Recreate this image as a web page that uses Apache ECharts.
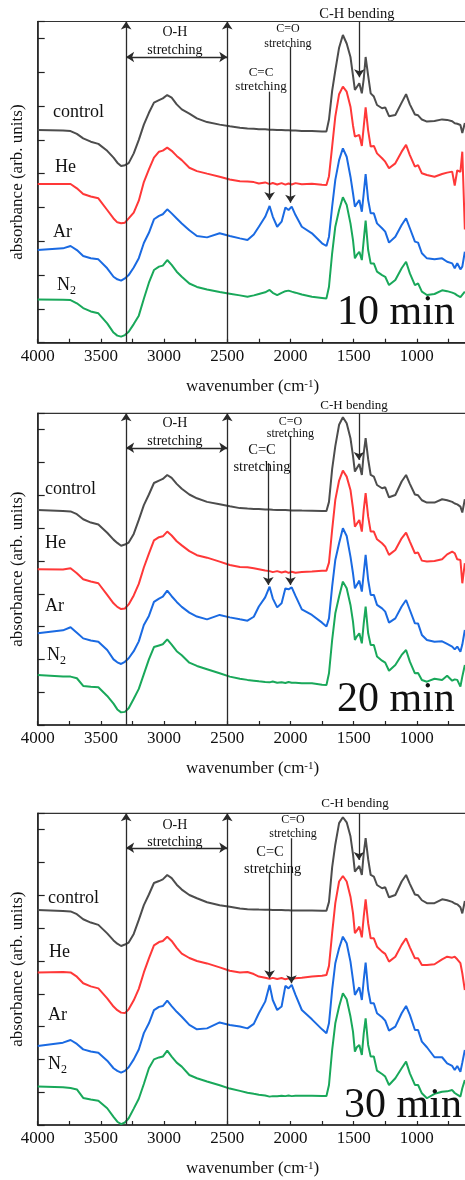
<!DOCTYPE html>
<html>
<head>
<meta charset="utf-8">
<script src="https://cdn.jsdelivr.net/npm/echarts@6/dist/echarts.min.js"></script>
<style>
html, body { margin: 0; padding: 0; background: #fff; overflow: hidden; }
#chart { width: 465px; height: 1180px; }
</style>
</head>
<body>
<div id="chart"></div>
<script>
// Sampled wavenumbers (cm-1), shared by every spectrum
const wavenumbers = [4000,3800,3740,3690,3640,3580,3520,3450,3400,3370,
  3340,3310,3280,3240,3200,3160,3120,3080,3040,3010,
  2975,2940,2900,2860,2800,2740,2660,2560,2480,2400,
  2340,2290,2250,2200,2165,2140,2105,2070,2040,2015,
  1990,1960,1910,1830,1750,1715,1695,1670,1645,1615,
  1585,1555,1525,1505,1490,1475,1455,1435,1420,1405,
  1385,1365,1340,1315,1275,1250,1220,1170,1120,1085,
  1055,1015,990,960,920,860,800,760,720,700,
  680,655,640,620];

// 10 min treatment (offset absorbance, arb. units)
const control10 = [12.58,12.55,12.52,12.35,12.09,11.89,11.76,11.35,10.95,10.65,
  10.45,10.5,10.62,11.2,12.0,12.9,13.6,14.2,14.35,14.45,
  14.65,14.5,14.1,13.8,13.55,13.27,13.05,12.9,12.8,12.72,
  12.67,12.65,12.63,12.62,12.6,12.6,12.58,12.58,12.57,12.56,
  12.55,12.55,12.53,12.52,12.5,12.5,13.2,14.9,16.1,17.45,
  18.2,17.7,16.9,15.8,14.95,15.05,15.35,14.75,15.6,16.9,
  15.8,14.75,14.56,14.06,13.87,13.92,13.4,13.47,14.2,14.7,
  14.1,13.5,13.45,13.2,13.08,13.12,13.21,13.18,13.1,12.98,
  12.95,12.88,12.4,13.0];
const he10 = [9.39,9.39,9.39,9.13,8.8,8.65,8.54,7.85,7.35,7.12,
  7.07,7.1,7.35,7.7,8.4,9.5,10.25,10.95,11.3,11.36,
  11.54,11.35,11.05,10.8,10.35,10.15,10.0,9.82,9.65,9.55,
  9.53,9.5,9.42,9.48,9.38,9.45,9.36,9.44,9.35,9.42,
  9.36,9.44,9.37,9.4,9.34,9.33,9.85,11.6,13.37,14.7,
  15.15,14.85,13.96,12.85,12.19,12.09,12.29,11.64,12.78,13.92,
  12.55,11.6,11.64,11.2,10.91,10.71,10.32,10.61,11.3,11.7,
  11.1,10.41,10.5,10.02,9.92,9.82,9.98,10.06,10.12,9.3,
  10.2,10.1,11.3,6.7];
const ar10 = [5.48,5.58,5.72,5.48,5.13,5.0,4.93,4.4,3.9,3.75,
  3.67,3.8,4.0,4.45,5.0,5.9,6.5,7.3,7.5,7.6,
  7.89,7.65,7.35,7.05,6.65,6.31,6.23,6.47,6.31,6.17,
  6.07,6.4,6.86,7.45,8.09,7.46,6.86,7.16,8.0,7.85,
  8.05,7.55,6.86,6.47,5.88,5.72,6.27,8.05,9.63,10.8,
  11.5,11.0,9.82,8.84,8.05,8.15,8.44,7.75,8.84,9.98,
  8.44,7.65,7.65,7.06,6.77,6.57,5.92,6.27,6.96,7.36,
  6.77,5.98,5.92,5.29,4.99,4.93,4.99,4.79,4.69,4.4,
  4.7,4.34,4.5,5.38];
const n2_10 = [2.56,2.54,2.52,2.33,2.05,1.85,1.74,1.14,0.6,0.42,
  0.36,0.45,0.65,1.1,1.6,2.6,3.55,4.3,4.5,4.56,
  4.89,4.6,4.2,3.9,3.5,3.3,3.15,3.0,2.9,2.8,
  2.72,2.8,2.88,2.98,3.12,2.95,2.82,2.95,3.05,3.08,
  3.02,2.96,2.85,2.72,2.65,2.62,3.31,5.29,6.86,7.85,
  8.6,8.15,7.06,6.07,4.99,5.19,5.38,4.89,6.07,7.22,
  5.48,4.69,4.69,4.2,4.0,3.9,3.41,3.71,4.4,4.79,
  4.1,3.41,3.51,3.02,2.82,2.88,3.1,3.05,2.96,2.9,
  2.8,2.7,2.62,3.02];

// 20 min treatment
const control20 = [13.11,13.05,13.02,12.85,12.54,12.34,12.22,11.72,11.3,11.1,
  10.93,11.0,11.12,11.65,12.5,13.4,14.05,14.75,14.9,15.0,
  15.24,15.06,14.7,14.4,14.05,13.82,13.6,13.45,13.33,13.22,
  13.19,13.17,13.16,13.14,13.13,13.12,13.11,13.1,13.1,13.09,
  13.08,13.08,13.07,13.06,13.05,13.05,13.6,15.6,17.0,18.3,
  18.76,18.39,17.48,16.4,15.45,15.55,15.91,15.24,16.57,17.48,
  16.2,15.24,15.14,14.63,14.43,14.49,13.88,14.02,14.84,15.24,
  14.7,14.05,14.0,13.7,13.56,13.56,13.76,13.7,13.6,13.5,
  13.45,13.31,12.95,13.76];
const he20 = [9.49,9.48,9.55,9.25,8.88,8.75,8.64,7.93,7.42,7.2,
  7.07,7.1,7.35,7.9,8.6,9.6,10.45,11.25,11.45,11.5,
  11.79,11.55,11.2,10.95,10.6,10.35,10.2,9.96,9.75,9.63,
  9.62,9.56,9.5,9.42,9.38,9.32,9.38,9.3,9.36,9.27,
  9.34,9.28,9.33,9.36,9.4,9.41,9.9,11.9,13.72,14.9,
  15.51,15.14,14.33,13.2,12.09,12.2,12.5,11.79,13.11,14.13,
  12.7,11.79,11.79,11.32,11.08,10.87,10.37,10.67,11.38,11.73,
  11.18,10.47,10.51,10.02,9.96,10.0,10.1,10.4,10.57,10.47,
  10.1,10.06,8.64,9.86];
const ar20 = [5.59,5.77,5.96,5.63,5.28,5.15,5.08,4.57,4.0,3.82,
  3.72,3.85,4.07,4.5,5.1,6.1,6.65,7.5,7.7,7.82,
  8.19,7.85,7.5,7.2,6.85,6.61,6.44,6.71,6.56,6.44,
  6.36,6.6,7.22,7.78,8.43,7.72,7.17,7.42,8.33,8.27,
  8.39,7.87,7.05,6.71,6.24,6.0,6.5,8.43,10.06,11.08,
  11.99,11.52,10.26,9.25,8.33,8.54,8.8,8.13,9.25,10.37,
  8.84,7.93,7.93,7.32,7.11,6.91,6.24,6.5,7.22,7.62,
  7.01,6.2,6.18,5.49,5.18,5.08,5.1,4.94,4.78,4.61,
  4.78,4.47,4.9,5.79];
const n2_20 = [3.05,2.95,2.95,2.85,2.38,2.33,2.3,1.77,1.3,0.95,
  0.77,0.8,1.02,1.6,2.2,3.1,4.0,4.75,4.85,4.92,
  5.22,4.9,4.5,4.25,3.8,3.6,3.4,3.15,2.95,2.82,
  2.75,2.7,2.66,2.62,2.6,2.65,2.58,2.6,2.56,2.62,
  2.57,2.58,2.55,2.54,2.46,2.44,3.15,5.18,6.81,7.83,
  8.74,8.33,7.32,6.3,5.18,5.39,5.59,4.98,6.2,7.22,
  5.59,4.88,4.88,4.17,3.92,3.8,3.31,3.66,4.27,4.57,
  3.86,3.15,3.17,2.74,2.64,2.82,2.74,3.0,2.7,2.78,
  2.75,2.34,2.95,3.66];

// 30 min treatment
const control30 = [13.11,13.05,13.02,12.85,12.54,12.34,12.2,11.68,11.25,11.05,
  10.91,11.0,11.12,11.65,12.5,13.4,14.05,14.75,14.87,14.97,
  15.24,15.05,14.65,14.35,14.02,13.82,13.58,13.4,13.3,13.2,
  13.15,13.14,13.13,13.12,13.12,13.11,13.1,13.1,13.09,13.09,
  13.08,13.08,13.07,13.07,13.06,13.06,13.6,15.7,17.1,18.4,
  18.76,18.45,17.6,16.5,15.45,15.55,15.79,15.24,16.57,17.48,
  16.2,15.24,15.14,14.63,14.43,14.49,13.88,14.02,14.84,15.24,
  14.7,14.05,14.0,13.7,13.52,13.52,13.76,13.7,13.6,13.5,
  13.45,13.27,12.9,13.65];
const he30 = [9.29,9.33,9.3,9.04,8.64,8.45,8.33,7.72,7.22,7.0,
  6.85,6.82,7.05,7.6,8.3,9.3,10.16,10.95,11.15,11.22,
  11.48,11.22,10.8,10.45,10.18,10.0,9.85,9.61,9.4,9.3,
  9.33,9.2,9.05,8.98,8.92,8.97,8.9,8.96,8.88,8.94,
  8.87,8.95,8.98,9.05,9.1,9.15,9.7,11.69,13.52,14.84,
  15.18,14.84,13.92,12.91,11.69,11.85,12.09,11.44,12.7,13.76,
  12.3,11.38,11.38,10.87,10.57,10.43,9.96,10.26,10.98,11.38,
  10.83,10.16,10.16,9.76,9.76,9.8,10.1,10.26,10.2,10.26,
  10.1,9.86,9.25,8.23];
const ar30 = [4.82,5.02,5.18,4.94,4.61,4.48,4.41,3.92,3.46,3.3,
  3.19,3.3,3.52,4.0,4.6,5.6,6.2,7.0,7.2,7.25,
  7.58,7.25,6.9,6.6,6.1,5.83,5.89,6.25,6.1,6.0,
  5.89,6.16,6.81,7.52,8.54,7.62,7.01,7.22,8.48,8.33,
  8.54,7.93,7.01,6.44,5.83,5.59,6.2,8.23,9.86,10.77,
  11.48,11.08,9.96,8.84,7.93,8.13,8.39,7.62,8.84,9.9,
  8.23,7.42,7.42,6.81,6.57,6.36,5.75,6.0,6.81,7.26,
  6.71,5.79,5.79,5.08,4.74,4.13,4.13,3.76,3.6,3.35,
  3.6,3.25,3.8,4.57];
const n2_30 = [2.34,2.3,2.25,2.17,1.65,1.55,1.48,1.02,0.5,0.2,
  0.05,0.15,0.41,1.0,1.6,2.5,3.46,4.0,4.12,4.17,
  4.53,4.17,3.8,3.56,3.05,2.85,2.65,2.42,2.22,2.08,
  1.97,1.9,1.85,1.8,1.73,1.76,1.75,1.78,1.76,1.8,
  1.76,1.78,1.78,1.78,1.77,1.77,2.44,4.57,6.2,7.22,
  8.03,7.66,6.61,5.69,4.47,4.74,4.88,4.27,5.59,6.5,
  4.88,4.17,4.17,3.31,3.11,2.95,2.44,2.85,3.46,3.86,
  3.15,2.44,2.44,1.93,1.63,1.9,2.03,2.05,2.13,1.95,
  1.85,1.73,2.24,2.74];

const gasNames = ['control', 'He', 'Ar', 'N2'];
const timeLabels = ['10 min', '20 min', '30 min'];
const xTickValues = [4000, 3500, 3000, 2500, 2000, 1500, 1000];

// Band assignments drawn on each panel (wavenumbers in cm-1)
const ohBand = [3300, 2500];
const ccBand = [2165, 2175, 2165];
const coBand = [2000, 2000, 1992];
const chBand = [1455, 1458, 1458];

// ---------------- layout & styling ----------------
const FONT = 'Liberation Serif, Times New Roman, serif';
const COLORS = ['#4d4d4d', '#ff3838', '#1a6ae2', '#19a85a'];
const Y_MAX = 19;
const panels = [
  { spectra: [control10, he10, ar10, n2_10], top: 21.5, height: 321.2,
    ccArrow: [14.85, 8.44], coArrow: [17.5, 8.28], chArrow: [19, 15.7] },
  { spectra: [control20, he20, ar20, n2_20], top: 413.3, height: 311.7,
    ccArrow: [15.96, 8.54], coArrow: [17.62, 8.54], chArrow: [19, 16.16] },
  { spectra: [control30, he30, ar30, n2_30], top: 813.3, height: 311.7,
    ccArrow: [15.45, 8.94], coArrow: [17.48, 8.64], chArrow: [19, 16.16] }
];

const chart = echarts.init(document.getElementById('chart'), null, { renderer: 'canvas' });

const grids = [], xAxes = [], yAxes = [], series = [];
panels.forEach((p, g) => {
  // the plot runs on past the right edge of the page (down to 500 cm-1)
  grids.push({ left: 37.7, width: 442.3, top: p.top, height: p.height,
    outerBoundsMode: 'none', containLabel: false,
    show: true, borderColor: '#333', borderWidth: 1.2, backgroundColor: 'transparent' });
  xAxes.push({
    type: 'value', gridIndex: g, inverse: true, min: 500, max: 4000, interval: 250,
    axisLine: { show: true, lineStyle: { color: '#222', width: 1.5 } },
    axisTick: { show: true, inside: true, length: 4, lineStyle: { color: '#222', width: 1.2 } },
    splitLine: { show: false },
    axisLabel: { show: true, margin: 5, fontFamily: FONT, fontSize: 17, color: '#111',
      formatter: v => (xTickValues.indexOf(v) >= 0 ? String(v) : '') }
  });
  // long ticks every 2 units, with axis line and axis title
  yAxes.push({
    type: 'value', gridIndex: g, min: 0, max: Y_MAX, interval: 2,
    name: 'absorbance (arb. units)', nameLocation: 'middle', nameGap: 12,
    nameTextStyle: { fontFamily: FONT, fontSize: 17, color: '#111' },
    axisLine: { show: true, lineStyle: { color: '#222', width: 1.5 } },
    axisTick: { show: true, inside: true, length: 7, lineStyle: { color: '#222', width: 1.2 } },
    axisLabel: { show: false }, splitLine: { show: false }
  });
  // short ticks every unit
  yAxes.push({
    type: 'value', gridIndex: g, min: 0, max: Y_MAX, interval: 1,
    axisLine: { show: false },
    axisTick: { show: true, inside: true, length: 4, lineStyle: { color: '#222', width: 1.2 } },
    axisLabel: { show: false }, splitLine: { show: false }
  });

  const arrowPair = (w, yFrom, yTo) => [
    { coord: [w, yFrom], symbol: 'none' }, { coord: [w, yTo], symbol: 'arrow' }];

  p.spectra.forEach((vals, k) => {
    const s = {
      type: 'line', name: gasNames[k] + ' ' + timeLabels[g],
      xAxisIndex: g, yAxisIndex: g * 2,
      data: wavenumbers.map((w, i) => [w, vals[i]]),
      showSymbol: false, symbol: 'none', smooth: false,
      lineStyle: { color: COLORS[k], width: 2 },
      silent: true, animation: false, z: 3
    };
    if (k === 0) {
      s.markLine = {
        silent: true, animation: false, symbolSize: 8,
        label: { show: false }, emphasis: { disabled: true },
        lineStyle: { color: '#2a2a2a', width: 1.3, type: 'solid' },
        data: [
          arrowPair(ohBand[0], 0, Y_MAX),
          arrowPair(ohBand[1], 0, Y_MAX),
          [{ coord: [ohBand[0], 16.9], symbol: 'arrow' }, { coord: [ohBand[1], 16.9], symbol: 'arrow' }],
          arrowPair(ccBand[g], p.ccArrow[0], p.ccArrow[1]),
          arrowPair(coBand[g], p.coArrow[0], p.coArrow[1]),
          arrowPair(chBand[g], p.chArrow[0], p.chArrow[1])
        ]
      };
    }
    series.push(s);
  });
});

chart.setOption({
  animation: false,
  backgroundColor: '#fff',
  grid: grids, xAxis: xAxes, yAxis: yAxes, series: series
});

// ---------------- text annotations, placed through the axes ----------------
const annotations = [
  // [panel, wavenumber, value, text, fontSize, align]
  [0, 2914, 18.33, 'O-H', 14, 'center'], [0, 2914, 17.32, 'stretching', 14, 'center'],
  [0, 2233, 16.0, 'C=C', 13, 'center'], [0, 2233, 15.13, 'stretching', 13, 'center'],
  [0, 2020, 18.56, 'C=O', 12, 'center'], [0, 2020, 17.68, 'stretching', 12, 'center'],
  [0, 1474, 19.45, 'C-H bending', 14.5, 'center'],
  [1, 2914, 18.41, 'O-H', 14, 'center'], [1, 2914, 17.32, 'stretching', 14, 'center'],
  [1, 2225, 16.77, 'C=C', 14.5, 'center'], [1, 2225, 15.73, 'stretching', 14.5, 'center'],
  [1, 2000, 18.48, 'C=O', 12, 'center'], [1, 2000, 17.74, 'stretching', 12, 'center'],
  [1, 1497, 19.45, 'C-H bending', 13, 'center'],
  [2, 2914, 18.29, 'O-H', 14, 'center'], [2, 2914, 17.26, 'stretching', 14, 'center'],
  [2, 2162, 16.65, 'C=C', 14.5, 'center'], [2, 2141, 15.61, 'stretching', 14.5, 'center'],
  [2, 1980, 18.6, 'C=O', 12, 'center'], [2, 1980, 17.74, 'stretching', 12, 'center'],
  [2, 1489, 19.57, 'C-H bending', 13, 'center']
];
const gasLabelPos = [
  [[3879, 13.65], [3863, 10.4], [3879, 6.54], [3847, 3.41]],
  [[3942, 14.39], [3942, 11.1], [3942, 7.26], [3926, 4.27]],
  [[3918, 13.84], [3911, 10.55], [3918, 6.7], [3918, 3.72]]
];
const timeLabelPos = [[699, 1.76], [699, 1.52], [643, 1.16]];

function textEl(pt, text, size, align, extra) {
  return Object.assign({
    type: 'text', x: pt[0], y: pt[1], silent: true, z: 10,
    style: { text: text, fontFamily: FONT, fontSize: size, fill: '#111',
      align: align, verticalAlign: 'middle', textAlign: align, textVerticalAlign: 'middle' }
  }, extra || {});
}

const graphics = [];
annotations.forEach(a => {
  const pt = chart.convertToPixel({ gridIndex: a[0] }, [a[1], a[2]]);
  graphics.push(textEl(pt, a[3], a[4], a[5]));
});
gasLabelPos.forEach((list, g) => {
  list.forEach((pos, k) => {
    const pt = chart.convertToPixel({ gridIndex: g }, pos);
    if (gasNames[k] === 'N2') {
      graphics.push(textEl(pt, 'N', 18, 'left'));
      graphics.push(textEl([pt[0] + 13, pt[1] + 6], '2', 12, 'left'));
    } else {
      graphics.push(textEl(pt, gasNames[k], 18, 'left'));
    }
  });
  const tp = chart.convertToPixel({ gridIndex: g }, timeLabelPos[g]);
  graphics.push(textEl(tp, timeLabels[g], 42, 'right'));
  // x-axis title below each panel
  const base = chart.convertToPixel({ gridIndex: g }, [2300, 0]);
  const el = textEl([base[0], base[1] + 44], 'wavenumber (cm{sup|-1})', 17, 'center');
  el.style.rich = { sup: { fontFamily: FONT, fontSize: 11, verticalAlign: 'top', fill: '#111' } };
  graphics.push(el);
});

chart.setOption({ graphic: graphics });
</script>
</body>
</html>
